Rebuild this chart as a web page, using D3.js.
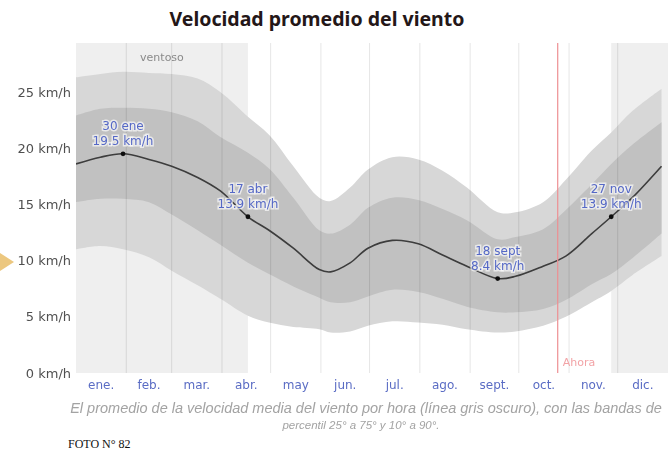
<!DOCTYPE html>
<html>
<head>
<meta charset="utf-8">
<script src="https://cdn.jsdelivr.net/npm/d3@7/dist/d3.min.js"></script>
<style>
  html, body { margin: 0; padding: 0; background: #fff; }
  svg { display: block; }
</style>
</head>
<body>
<script>
// Velocidad promedio del viento: media horaria con bandas de percentiles
const days = [0, 15, 29, 45, 59, 75, 89, 106, 119, 134, 150, 157, 169, 180, 195, 211, 226, 241, 260, 271, 288, 302, 318, 330, 343, 361];
const mean = [18.6, 19.2, 19.5, 19.0, 18.4, 17.4, 16.2, 13.9, 12.7, 11.1, 9.2, 9.0, 9.8, 11.1, 11.8, 11.5, 10.5, 9.5, 8.4, 8.6, 9.5, 10.4, 12.4, 13.9, 15.6, 18.4];
const p90 = [26.3, 26.6, 26.8, 26.7, 26.6, 26.2, 25.0, 22.8, 21.2, 18.4, 15.6, 15.3, 16.5, 18.1, 19.2, 19.0, 18.0, 16.5, 14.3, 14.3, 15.2, 17.2, 19.8, 21.4, 23.3, 25.3];
const p75 = [22.9, 23.5, 23.6, 23.5, 23.2, 22.4, 21.0, 19.6, 18.2, 15.6, 12.7, 12.4, 13.2, 14.7, 15.6, 15.4, 14.6, 13.6, 11.9, 12.1, 12.8, 14.5, 16.8, 18.6, 20.3, 22.3];
const p25 = [15.2, 15.5, 15.5, 15.2, 14.1, 12.7, 11.4, 9.8, 8.8, 7.7, 6.7, 6.3, 6.3, 6.8, 7.4, 7.2, 6.6, 5.9, 5.4, 5.4, 5.7, 6.5, 7.9, 8.8, 10.2, 12.4];
const p10 = [11.0, 11.3, 11.0, 10.3, 9.1, 7.8, 6.6, 5.1, 4.5, 4.1, 3.9, 3.6, 3.7, 4.2, 4.6, 4.5, 4.3, 3.9, 3.6, 3.7, 4.2, 5.0, 6.3, 7.3, 8.7, 10.4];

// Días destacados (máximo, inicio/fin de la temporada ventosa, mínimo)
const markDays = [29, 106, 260, 330];
const markDates = ["30 ene", "17 abr", "18 sept", "27 nov"];
const markValues = [19.5, 13.9, 8.4, 13.9];

const monthStarts = [0, 31, 59, 90, 120, 151, 181, 212, 243, 273, 304, 334, 365];
const monthLabels = ["ene.", "feb.", "mar.", "abr.", "may", "jun.", "jul.", "ago.", "sept.", "oct.", "nov.", "dic."];
const yTicks = [0, 5, 10, 15, 20, 25];
const windySeasons = [[0, 106], [330, 365]];
const nowDay = 297;

const W = 668, H = 452;
const plotTop = 43, plotBottom = 373;

const x = d3.scaleLinear().domain([0, 365]).range([76, 668]);
const y = d3.scaleLinear().domain([0, 25]).range([373, 92]);

const svg = d3.select("body").append("svg").attr("width", W).attr("height", H);

const defs = svg.append("defs");
defs.append("filter").attr("id", "soft")
  .attr("x", "-5%").attr("y", "-5%").attr("width", "110%").attr("height", "110%")
  .append("feGaussianBlur").attr("stdDeviation", 0.75);
defs.append("clipPath").attr("id", "plotClip")
  .append("rect").attr("x", 76).attr("y", plotTop).attr("width", W - 76).attr("height", plotBottom - plotTop);

// Título
svg.append("text")
  .attr("x", 317).attr("y", 26)
  .attr("text-anchor", "middle")
  .attr("font-family", "'Noto Sans', 'Open Sans', sans-serif")
  .attr("font-weight", 700)
  .attr("font-size", 19.5)
  .attr("fill", "#241718")
  .text("Velocidad promedio del viento");

// Flecha lateral
svg.append("path")
  .attr("d", "M0,253 L14,262 L0,271 Z")
  .attr("fill", "#ecc77f");

const chart = svg.append("g").attr("filter", "url(#soft)");
const plot = chart.append("g").attr("clip-path", "url(#plotClip)");

// Temporada ventosa
plot.selectAll("rect.windy").data(windySeasons).join("rect")
  .attr("class", "windy")
  .attr("x", d => x(d[0])).attr("y", plotTop)
  .attr("width", d => x(d[1]) - x(d[0]))
  .attr("height", plotBottom - plotTop)
  .attr("fill", "#efefef");

chart.append("text")
  .attr("x", (x(windySeasons[0][0]) + x(windySeasons[0][1])) / 2)
  .attr("y", 61)
  .attr("text-anchor", "middle")
  .attr("font-family", "'DejaVu Sans', sans-serif")
  .attr("font-size", 11)
  .attr("fill", "#8a8a8a")
  .text("ventoso");

const rows = days.map((d, i) => ({ d, m: mean[i], a: p10[i], b: p25[i], c: p75[i], e: p90[i] }));
const curve = d3.curveCatmullRom.alpha(0.5);

const outerArea = d3.area().x(r => x(r.d)).y0(r => y(r.a)).y1(r => y(r.e)).curve(curve);
const innerArea = d3.area().x(r => x(r.d)).y0(r => y(r.b)).y1(r => y(r.c)).curve(curve);
const meanLine = d3.line().x(r => x(r.d)).y(r => y(r.m)).curve(curve);

plot.append("path").datum(rows).attr("d", outerArea).attr("fill", "#d7d7d7");
plot.append("path").datum(rows).attr("d", innerArea).attr("fill", "#c1c1c1");

// Líneas de inicio de mes
plot.selectAll("line.grid").data(monthStarts.slice(1, 12)).join("line")
  .attr("class", "grid")
  .attr("x1", d => x(d)).attr("x2", d => x(d))
  .attr("y1", plotTop).attr("y2", plotBottom)
  .attr("stroke", "rgba(0,0,0,0.10)").attr("stroke-width", 1);

plot.append("path").datum(rows).attr("d", meanLine)
  .attr("fill", "none").attr("stroke", "#3c3c3c").attr("stroke-width", 1.6);

// Línea de "Ahora"
plot.append("line")
  .attr("x1", x(nowDay)).attr("x2", x(nowDay))
  .attr("y1", plotTop).attr("y2", plotBottom)
  .attr("stroke", "#ee8f93").attr("stroke-width", 1.2);
chart.append("text")
  .attr("x", x(nowDay) + 5).attr("y", 366)
  .attr("font-family", "'DejaVu Sans', sans-serif")
  .attr("font-size", 11)
  .attr("fill", "#f2a3a6")
  .text("Ahora");

// Marcadores y etiquetas
const marks = markDays.map((d, i) => ({ d, v: markValues[i], t: markDates[i] }));
chart.selectAll("circle.mark").data(marks).join("circle")
  .attr("class", "mark")
  .attr("cx", m => x(m.d)).attr("cy", m => y(m.v))
  .attr("r", 2.4).attr("fill", "#111");

const labels = chart.selectAll("g.lbl").data(marks).join("g").attr("class", "lbl");
labels.append("text")
  .attr("x", m => x(m.d)).attr("y", m => y(m.v) - 24)
  .text(m => m.t);
labels.append("text")
  .attr("x", m => x(m.d)).attr("y", m => y(m.v) - 9)
  .text(m => d3.format(".1f")(m.v) + " km/h");
labels.selectAll("text")
  .attr("text-anchor", "middle")
  .attr("font-family", "'DejaVu Sans', sans-serif")
  .attr("font-size", 12)
  .attr("fill", "#5568c6")
  .attr("stroke", "rgba(255,255,255,0.65)")
  .attr("stroke-width", 3)
  .attr("paint-order", "stroke");

// Eje Y
const yAxis = d3.axisLeft(y).tickValues(yTicks).tickSize(0).tickPadding(0)
  .tickFormat(v => v + " km/h");
const gy = chart.append("g").attr("transform", "translate(71,0)").call(yAxis);
gy.select(".domain").remove();
gy.selectAll("text")
  .attr("font-family", "'DejaVu Sans', sans-serif")
  .attr("font-size", 13)
  .attr("fill", "#505050");

// Eje X: nombres de mes centrados en cada mes
const mids = monthLabels.map((m, i) => ({ m, d: (monthStarts[i] + monthStarts[i + 1]) / 2 }));
chart.selectAll("text.month").data(mids).join("text")
  .attr("class", "month")
  .attr("x", r => x(r.d)).attr("y", 389)
  .attr("text-anchor", "middle")
  .attr("font-family", "'DejaVu Sans', sans-serif")
  .attr("font-size", 12)
  .attr("fill", "#5a6cc4")
  .text(r => r.m);

// Leyenda
const cap = chart.append("g")
  .attr("font-family", "'Liberation Sans', Arial, sans-serif")
  .attr("font-style", "italic")
  .attr("fill", "#a3a3a3")
  .attr("text-anchor", "middle");
cap.append("text").attr("x", 366).attr("y", 413)
  .attr("font-size", 14.5)
  .text("El promedio de la velocidad media del viento por hora (línea gris oscuro), con las bandas de");
cap.append("text").attr("x", 361).attr("y", 429)
  .attr("font-size", 11.5)
  .text("percentil 25° a 75° y 10° a 90°.");

svg.append("text")
  .attr("x", 68).attr("y", 448)
  .attr("font-family", "'Liberation Serif', 'Times New Roman', serif")
  .attr("font-size", 12)
  .attr("fill", "#111")
  .text("FOTO N° 82");
</script>
</body>
</html>
